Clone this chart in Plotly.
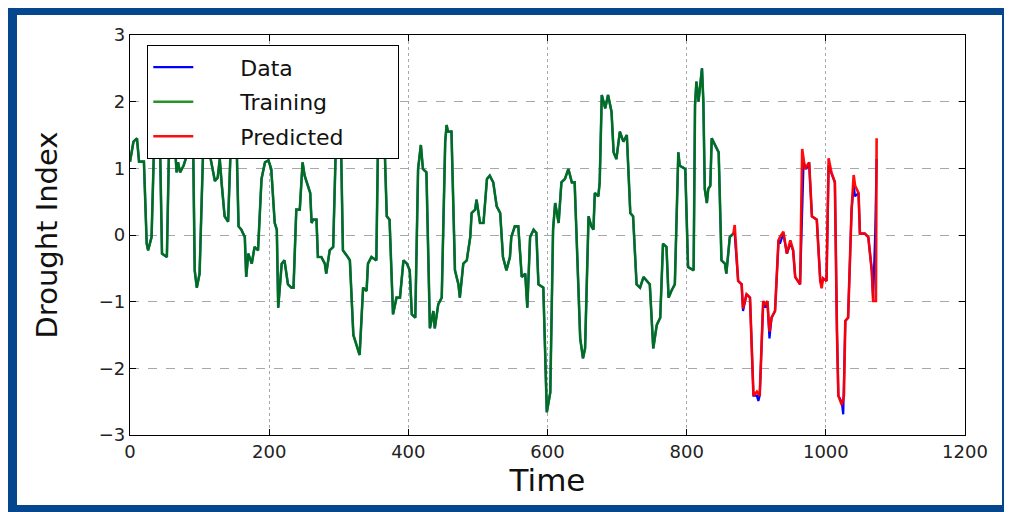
import plotly.graph_objects as go

# ---- Data ----
data_t = [0, 5, 10, 13, 20, 24, 26, 31, 36, 42, 46, 53, 57, 63, 67, 69, 72, 77, 80, 84, 90,
          93, 96, 100, 106, 112, 115, 122, 126, 129, 132, 136, 141, 146, 152, 156, 160, 165,
          167, 170, 175, 179, 184, 189, 194, 199, 203, 208, 211, 213, 218, 222, 227, 232, 235,
          239, 244, 248, 251, 256, 259, 261, 263, 268, 270, 275, 280, 282, 287, 292, 297, 302,
          306, 313, 316, 321, 326, 330, 335, 340, 342, 347, 354, 357, 364, 369, 373, 378, 383,
          388, 393, 398, 402, 405, 410, 414, 418, 421, 426, 431, 436, 438, 443, 448, 453, 455,
          457, 462, 467, 472, 474, 479, 484, 489, 491, 496, 498, 503, 508, 513, 517, 522, 527,
          532, 536, 541, 546, 548, 553, 558, 563, 568, 571, 575, 580, 584, 587, 594, 599, 604,
          608, 611, 616, 620, 625, 630, 635, 639, 647, 651, 654, 659, 663, 666, 668, 673, 675,
          678, 683, 687, 692, 695, 699, 704, 709, 714, 719, 723, 728, 733, 738, 742, 747, 752,
          757, 762, 766, 771, 774, 778, 783, 788, 790, 798, 802, 810, 812, 814, 817, 822, 824,
          826, 829, 831, 834, 836, 841, 846, 850, 855, 857, 862, 867, 869, 874, 879, 881, 886,
          891, 896, 901, 903, 905, 910, 913, 916, 919, 922, 927, 932, 934, 939, 944, 949, 953,
          956, 963, 968, 972, 976, 980, 987, 992, 994, 996, 1001, 1004, 1008, 1013, 1016, 1018,
          1023, 1025, 1028, 1032, 1037, 1040, 1042, 1047, 1049, 1056, 1061, 1066, 1068, 1071,
          1073]
data_v = [1.1, 1.4, 1.45, 1.1, 1.1, -0.13, -0.23, -0.03, 1.9, 2.0, -0.28, -0.33, 1.8, 1.6, 0.94,
          1.09, 0.94, 1.04, 1.14, 2.2, 2.0, -0.53, -0.79, -0.58, 1.6, 1.8, 1.19, 0.81, 0.86, 1.14,
          0.74, 0.28, 0.2, 1.7, 1.9, 0.13, 0.08, -0.03, -0.63, -0.28, -0.43, -0.18, -0.23, 0.84,
          1.09, 1.12, 0.99, 0.18, 0.08, -1.09, -0.43, -0.38, -0.74, -0.79, -0.79, 0.38, 0.38,
          1.09, 0.89, 0.74, 0.63, 0.18, 0.23, 0.23, -0.33, -0.33, -0.43, -0.58, -0.23, -0.18,
          1.8, 2.1, -0.23, -0.33, -0.38, -1.5, -1.65, -1.8, -0.79, -0.84, -0.43, -0.33, -0.38,
          1.8, 2.0, 0.28, 0.23, -1.19, -0.94, -0.94, -0.38, -0.43, -0.53, -1.19, -1.24, 0.99,
          1.35, 0.99, 0.94, -1.4, -1.14, -1.4, -1.04, -0.94, 1.4, 1.65, 1.55, 1.55, -0.53, -0.74,
          -0.94, -0.43, -0.38, -0.03, 0.33, 0.38, 0.53, 0.18, 0.18, 0.84, 0.89, 0.79, 0.43, 0.33,
          -0.33, -0.53, -0.33, -0.03, 0.13, 0.13, -0.63, -0.58, -1.09, -0.03, 0.08, 0.03, -0.74,
          -0.79, -2.66, -2.36, 0.08, 0.48, 0.18, 0.79, 0.84, 0.99, 0.79, 0.79, -1.55, -1.85, -1.7,
          0.28, 0.13, 0.08, 0.63, 0.58, 0.79, 2.1, 1.9, 2.1, 1.85, 1.24, 1.14, 1.55, 1.4, 1.5,
          0.33, 0.28, -0.74, -0.79, -0.63, -0.68, -0.74, -1.7, -1.35, -1.24, -0.13, -0.18, -0.94,
          -0.84, -0.74, 1.24, 1.04, 0.99, -0.48, -0.53, 1.95, 2.3, 2.0, 2.5, 2.0, 0.69, 0.48,
          0.69, 0.74, 1.45, 1.35, 1.24, -0.38, -0.43, -0.58, -0.03, 0.02, 0.02, -0.69, -0.74,
          -1.14, -0.89, -0.94, -2.41, -2.41, -2.49, -2.41, -0.99, -1.09, -0.99, -1.55, -1.24,
          -1.14, -0.08, -0.13, 0.02, -0.28, -0.13, -0.23, -0.63, -0.74, 1.09, 0.99, 1.09, 0.28,
          0.23, -0.69, -0.74, -0.65, -0.69, 1.04, 0.94, 0.79, -1.45, -2.41, -2.51, -2.69, -1.29,
          -1.24, 0.38, 0.74, 0.58, 0.63, 0.02, 0.02, -0.03, -0.53, -0.95, 0.05, 1.14]

train_end = 867  # last time step of the training period

pred_t = [867, 869, 874, 879, 881, 886, 891, 896, 901, 905, 910, 913, 916, 919, 922, 927, 932,
          934, 939, 944, 949, 953, 956, 963, 966, 970, 976, 980, 987, 992, 994, 996, 1001, 1004,
          1008, 1013, 1016, 1018, 1023, 1026, 1028, 1032, 1037, 1040, 1042, 1047, 1049, 1056,
          1061, 1066, 1068, 1072, 1073]
pred_v = [0.0, 0.15, -0.69, -0.74, -1.1, -0.89, -0.94, -2.41, -2.35, -2.41, -0.99, -1.05, -0.99,
          -1.45, -1.24, -1.14, -0.08, -0.03, 0.05, -0.28, -0.08, -0.23, -0.63, -0.74, 1.29, 0.99,
          1.09, 0.28, 0.23, -0.69, -0.8, -0.65, -0.69, 1.15, 0.94, 0.79, -1.45, -2.41, -2.55,
          -2.41, -1.29, -1.24, 0.38, 0.9, 0.74, 0.63, 0.02, 0.02, -0.03, -0.53, -0.99, -0.99, 1.45]

x_ticks = [0, 200, 400, 600, 800, 1000, 1200]
y_ticks = [-3, -2, -1, 0, 1, 2, 3]

train_t = [t for t in data_t if t <= train_end]
train_v = [v for t, v in zip(data_t, data_v) if t <= train_end]

FONT = "DejaVu Sans"
NB = "\u00a0"

fig = go.Figure()
fig.add_trace(go.Scatter(x=data_t, y=data_v, mode="lines", name=NB * 6 + "Data",
                         legendgroup="a", line=dict(color="#0000ff", width=2.2)))
fig.add_trace(go.Scatter(x=train_t, y=train_v, mode="lines", name=NB * 6 + "Training",
                         legendgroup="b", line=dict(color="#008000", width=2.6), opacity=0.85))
fig.add_trace(go.Scatter(x=pred_t, y=pred_v, mode="lines", name=NB * 6 + "Predicted" + NB * 7,
                         legendgroup="c", line=dict(color="#ff0000", width=2.6), opacity=0.95))

# Layout geometry: the page adds an 8px body margin, so figure coords = page coords - 8
OFF = 8
W, H = 1012 - OFF, 512 - OFF
L, R, T, B = 130 - OFF, 965 - OFF, 35 - OFF, 435 - OFF


def px_x(p):
    return (p - OFF - L) / (R - L)


def px_y(p):
    return (B - (p - OFF)) / (B - T)


shapes = [
    dict(type="rect", xref="paper", yref="paper", layer="below",
         x0=px_x(0), x1=px_x(1013), y0=px_y(513), y1=px_y(0),
         fillcolor="#05478f", line=dict(width=0)),
    dict(type="rect", xref="paper", yref="paper", layer="below",
         x0=px_x(17), x1=px_x(1002), y0=px_y(505), y1=px_y(15),
         fillcolor="white", line=dict(width=0)),
]

axis_common = dict(
    showline=True, linecolor="black", linewidth=1.2, mirror="ticks",
    ticks="inside", ticklen=6, tickcolor="black",
    showgrid=True, gridcolor="#a8a8a8", gridwidth=1,
    zeroline=False,
    tickfont=dict(family=FONT, size=18, color="#222222"),
)

fig.update_layout(
    width=W, height=H,
    margin=dict(l=L, r=W - R, t=T, b=H - B, autoexpand=False),
    paper_bgcolor="white", plot_bgcolor="white",
    shapes=shapes,
    showlegend=True,
    legend=dict(
        x=px_x(147), y=px_y(45), xanchor="left", yanchor="top",
        bgcolor="white", bordercolor="black", borderwidth=1.3,
        font=dict(family=FONT, size=22, color="#111111"),
        traceorder="grouped", tracegroupgap=3,
        itemwidth=40,
    ),
    xaxis=dict(range=[0, 1200], tickvals=x_ticks, griddash="dot",
               title=dict(text="Time", font=dict(family=FONT, size=31, color="#111111"),
                          standoff=6),
               **axis_common),
    yaxis=dict(range=[-3, 3], tickvals=y_ticks, griddash="dash",
               title=dict(text="Drought Index", font=dict(family=FONT, size=29, color="#111111"),
                          standoff=32),
               **axis_common),
)

fig.write_html("out.html")
